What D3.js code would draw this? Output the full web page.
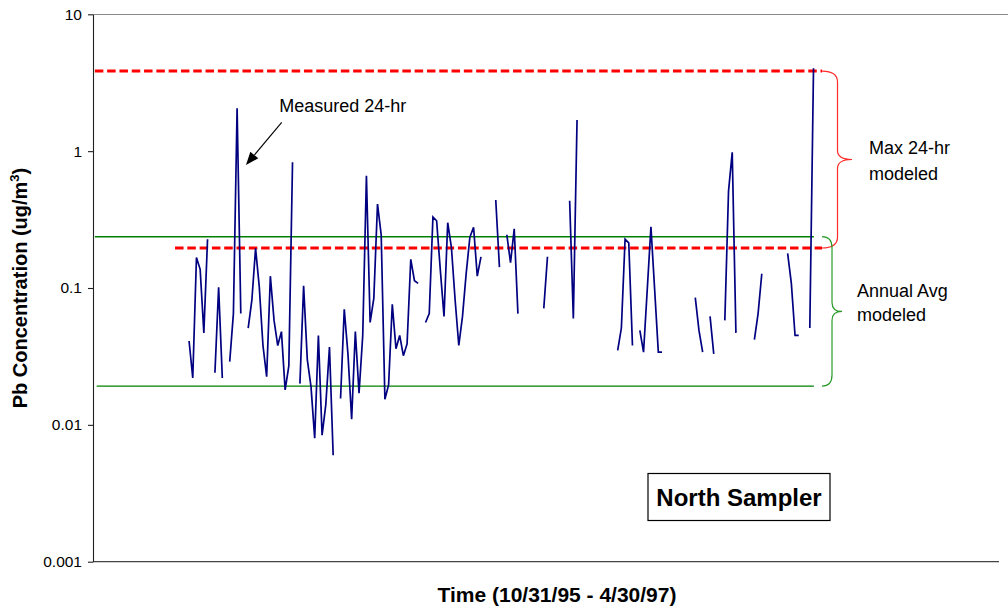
<!DOCTYPE html>
<html><head><meta charset="utf-8">
<script src="https://cdn.jsdelivr.net/npm/d3@7"></script>
<style>
body{margin:0;background:#fff;}
svg{display:block;font-family:Arial,"Liberation Sans",sans-serif;}
</style>
</head><body>
<svg id="chart" width="1008" height="611"></svg>
<script>
// ---- data ----
// Pb 24-hr measurements, one per sample (null = no sample / gap)
const pbValues = [
  0.041, 0.022, 0.167, 0.137, 0.047, 0.227, null, 0.024, 0.101, 0.022,
  null, 0.029, 0.065, 2.06, 0.065, null, 0.051, 0.082, 0.195, 0.102,
  0.038, 0.0225, 0.122, 0.058, 0.038, 0.048, 0.018, 0.027, 0.83, null,
  0.020, 0.104, 0.030, 0.019, 0.008, 0.045, 0.0084, 0.014, 0.037, 0.006,
  null, 0.0156, 0.070, 0.033, 0.011, 0.048, 0.017, 0.045, 0.66, 0.056,
  0.084, 0.41, 0.244, 0.0154, 0.0196, 0.076, 0.036, 0.045, 0.032, 0.039,
  0.162, 0.113, 0.108, null, 0.056, 0.065, 0.33, 0.31, 0.135, 0.062,
  0.30, 0.198, 0.082, 0.038, 0.062, 0.128, 0.235, 0.278, 0.122, 0.169,
  null, null, null, 0.44, 0.142, null, 0.245, 0.153, 0.271, 0.065,
  null, null, null, null, null, null, 0.071, 0.169, null, null,
  null, null, null, 0.434, 0.060, 1.69, null, null, null, null,
  null, null, null, null, null, null, 0.035, 0.051, 0.227, 0.214,
  0.038, null, 0.049, 0.034, 0.097, 0.28, 0.098, 0.034, 0.034, null,
  null, null, null, null, null, null, null, 0.085, 0.049, 0.034,
  null, 0.062, 0.033, null, null, 0.058, 0.51, 0.98, 0.047, null,
  null, null, null, 0.042, 0.065, 0.127, null, null, null, null,
  null, null, 0.179, 0.108, 0.045, 0.045, null, null, 0.051, 4.03
];
const sampleIndex = pbValues.map((d, i) => i);

const yTickValues = [10, 1, 0.1, 0.01, 0.001];
const yTickLabels = ["10", "1", "0.1", "0.01", "0.001"];

// modeled reference levels (ug/m3) and their extents in sample-index units
const refNames  = ["max24High", "max24Low", "annualHigh", "annualLow"];
const refValues = [3.85, 0.196, 0.237, 0.0192];
const refStart  = [-25.5, -3.8, -25.5, -25.0];
const refEnd    = [171.3, 171.3, 169.1, 169.1];

const xDomain = [-26, 219.2];
const yDomain = [0.001, 10];

// ---- layout ----
const svg = d3.select("#chart");
const L = 93, R = 999, T = 14.3, B = 561.7;
const x = d3.scaleLinear().domain(xDomain).range([L, R]);
const y = d3.scaleLog().domain(yDomain).range([B, T]);

// top border
svg.append("line").attr("x1", L).attr("x2", 1008).attr("y1", 14.5).attr("y2", 14.5)
  .attr("stroke", "#8a8a8a").attr("stroke-width", 1.2);
// bottom axis line
svg.append("line").attr("x1", L).attr("x2", R).attr("y1", B).attr("y2", B)
  .attr("stroke", "#444").attr("stroke-width", 1.3);

// left axis
const yAxis = d3.axisLeft(y).tickValues(yTickValues)
  .tickFormat((d, i) => yTickLabels[yTickValues.indexOf(d)])
  .tickSize(5).tickSizeOuter(0).tickPadding(6);
const ga = svg.append("g").attr("transform", `translate(${L},0)`).call(yAxis);
ga.select(".domain").attr("stroke", "#222").attr("stroke-width", 1.1);
ga.selectAll(".tick line").attr("stroke", "#222").attr("stroke-width", 1.1);
ga.selectAll(".tick text").attr("font-size", "15.5px").attr("fill", "#000")
  .attr("font-family", "Arial, 'Liberation Sans', sans-serif");

// reference lines
const refStyle = {
  max24High: {stroke: "#ff0000", w: 3, dash: "8.5,3.8"},
  max24Low: {stroke: "#ff0000", w: 3, dash: "8.5,3.8"},
  annualHigh: {stroke: "#008000", w: 1.4, dash: null},
  annualLow: {stroke: "#008000", w: 1.4, dash: null}
};
// draw green first, red on top
const refOrder = [2, 3, 0, 1];
refOrder.forEach(k => {
  const s = refStyle[refNames[k]];
  svg.append("line")
    .attr("x1", x(refStart[k])).attr("x2", x(refEnd[k]))
    .attr("y1", y(refValues[k])).attr("y2", y(refValues[k]))
    .attr("stroke", s.stroke).attr("stroke-width", s.w)
    .attr("stroke-dasharray", s.dash);
});

// measured series
const line = d3.line()
  .defined(i => pbValues[i] != null)
  .x(i => x(i))
  .y(i => y(pbValues[i]));
svg.append("path").datum(sampleIndex).attr("d", line)
  .attr("fill", "none").attr("stroke", "#000080").attr("stroke-width", 1.7)
  .attr("stroke-linejoin", "miter");

// braces
function brace(x0, depth, tip, yTop, yBot, color) {
  const yMid = (yTop + yBot) / 2;
  const x1 = x0 + depth, xt = x0 + tip;
  const r = 11, rm = 9;
  const p = `M${x0},${yTop} Q${x1},${yTop} ${x1},${yTop + r} L${x1},${yMid - rm} Q${x1},${yMid} ${xt},${yMid}` +
            ` Q${x1},${yMid} ${x1},${yMid + rm} L${x1},${yBot - r} Q${x1},${yBot} ${x0},${yBot}`;
  svg.append("path").attr("d", p).attr("fill", "none").attr("stroke", color).attr("stroke-width", 1.2);
}
brace(x(refEnd[0]), 15.5, 30, y(refValues[0]), y(refValues[1]), "#ff2a2a");
brace(x(refEnd[0]), 10, 20, y(refValues[2]), y(refValues[3]), "#2a9a2a");

// annotation texts
const ann = svg.append("g").attr("font-size", "18px").attr("fill", "#000");
ann.append("text").attr("x", 869).attr("y", 154).text("Max 24-hr");
ann.append("text").attr("x", 869).attr("y", 180).text("modeled");
ann.append("text").attr("x", 857).attr("y", 297).text("Annual Avg");
ann.append("text").attr("x", 857).attr("y", 321).text("modeled");
ann.append("text").attr("x", 279.3).attr("y", 112.3).text("Measured 24-hr");

// arrow to the measured spike
const ax0 = 281.7, ay0 = 122.3, ax1 = 246, ay1 = 165;
const ang = Math.atan2(ay1 - ay0, ax1 - ax0);
const hl = 13, hw = 5.2;
const bx = ax1 - hl * Math.cos(ang), by = ay1 - hl * Math.sin(ang);
svg.append("line").attr("x1", ax0).attr("y1", ay0).attr("x2", bx).attr("y2", by)
  .attr("stroke", "#000").attr("stroke-width", 1.1);
svg.append("path")
  .attr("d", `M${ax1},${ay1} L${bx + hw * Math.sin(ang)},${by - hw * Math.cos(ang)} L${bx - hw * Math.sin(ang)},${by + hw * Math.cos(ang)} Z`)
  .attr("fill", "#000");

// North Sampler box
svg.append("rect").attr("x", 648).attr("y", 473.5).attr("width", 182).attr("height", 47)
  .attr("fill", "#fff").attr("stroke", "#000").attr("stroke-width", 1.2);
svg.append("text").attr("x", 739).attr("y", 506).attr("text-anchor", "middle")
  .attr("font-size", "24px").attr("font-weight", "bold").text("North Sampler");

// axis titles
svg.append("text").attr("x", 557).attr("y", 601.5).attr("text-anchor", "middle")
  .attr("font-size", "21px").attr("font-weight", "bold").text("Time (10/31/95 - 4/30/97)");

const yt = svg.append("text").attr("transform", "translate(27,288) rotate(-90)")
  .attr("text-anchor", "middle").attr("font-size", "20px").attr("font-weight", "bold");
yt.append("tspan").text("Pb Concentration (ug/m");
yt.append("tspan").attr("font-size", "13px").attr("dy", "-8").text("3");
yt.append("tspan").attr("dy", "8").text(")");
</script>
</body></html>
